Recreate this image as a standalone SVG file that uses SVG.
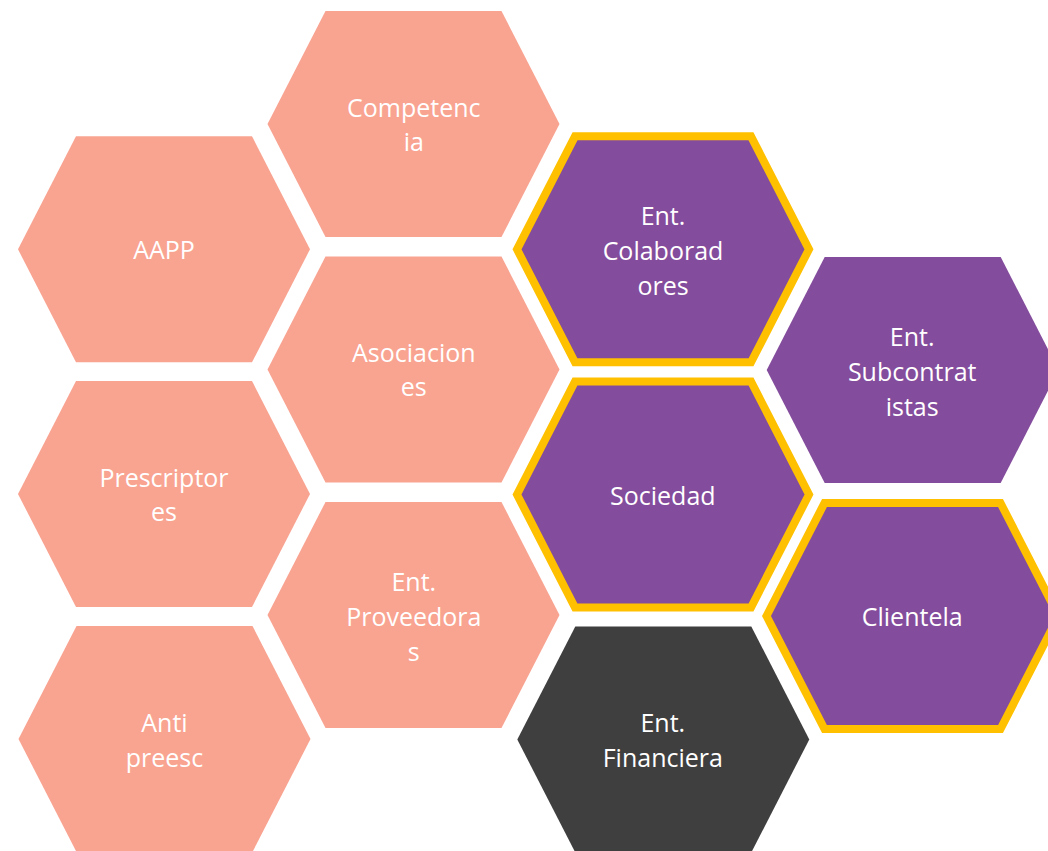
<svg xmlns="http://www.w3.org/2000/svg" width="1048" height="851" viewBox="0 0 1048 851">
<style>
.salmon{fill:#F9A391;}
.purple{fill:#844C9C;}
.gold{fill:#844C9C;stroke:#FFC000;stroke-width:8;stroke-linejoin:miter;}
.dark{fill:#3F3F3F;}
text{font-family:"Open Sans","Noto Sans","DejaVu Sans",sans-serif;font-size:25px;fill:#FFFFFF;text-anchor:middle;}
</style>
<rect width="1048" height="851" fill="#FFFFFF"/>
<g id="connectors"></g>
<g id="competencia">
<polygon class="salmon" points="267.5,124 325.5,11 501.5,11 559.5,124 501.5,237 325.5,237"/>
<text x="413.8" y="116.7">Competenc</text>
<text x="413.8" y="150.7">ia</text>
</g>
<g id="aapp">
<polygon class="salmon" points="18,249.3 76,136.3 252,136.3 310,249.3 252,362.3 76,362.3"/>
<text x="164" y="259">AAPP</text>
</g>
<g id="prescriptores">
<polygon class="salmon" points="18,494 76,381 252,381 310,494 252,607 76,607"/>
<text x="164" y="487">Prescriptor</text>
<text x="164" y="521">es</text>
</g>
<g id="antipreesc">
<polygon class="salmon" points="18.5,739 76.5,626 252.5,626 310.5,739 252.5,852 76.5,852"/>
<text x="164.5" y="731.7">Anti</text>
<text x="164.5" y="766.7">preesc</text>
</g>
<g id="asociaciones">
<polygon class="salmon" points="267.5,369.5 325.5,256.5 501.5,256.5 559.5,369.5 501.5,482.5 325.5,482.5"/>
<text x="413.8" y="362">Asociacion</text>
<text x="413.8" y="396">es</text>
</g>
<g id="proveedoras">
<polygon class="salmon" points="267.5,615 325.5,502 501.5,502 559.5,615 501.5,728 325.5,728"/>
<text x="413.8" y="591">Ent.</text>
<text x="413.8" y="626">Proveedora</text>
<text x="413.8" y="661">s</text>
</g>
<g id="colaboradores">
<polygon class="gold" points="517,249.3 575,136.3 751,136.3 809,249.3 751,362.3 575,362.3"/>
<text x="663" y="224.5">Ent.</text>
<text x="663" y="259.5">Colaborad</text>
<text x="663" y="294.5">ores</text>
</g>
<g id="sociedad">
<polygon class="gold" points="517,494.5 575,381.5 751,381.5 809,494.5 751,607.5 575,607.5"/>
<text x="662.8" y="505">Sociedad</text>
</g>
<g id="financiera">
<polygon class="dark" points="517.3,739.5 575.3,626.5 751.3,626.5 809.3,739.5 751.3,852.5 575.3,852.5"/>
<text x="662.8" y="731.7">Ent.</text>
<text x="662.8" y="767.3">Financiera</text>
</g>
<g id="subcontratistas">
<polygon class="purple" points="766.7,370 824.7,257 1000.7,257 1058.7,370 1000.7,483 824.7,483"/>
<text x="912.2" y="345.7">Ent.</text>
<text x="912.2" y="381">Subcontrat</text>
<text x="912.2" y="415.7">istas</text>
</g>
<g id="clientela">
<polygon class="gold" points="766.5,616 824.5,503 1000.5,503 1058.5,616 1000.5,729 824.5,729"/>
<text x="912.2" y="626">Clientela</text>
</g>
</svg>
